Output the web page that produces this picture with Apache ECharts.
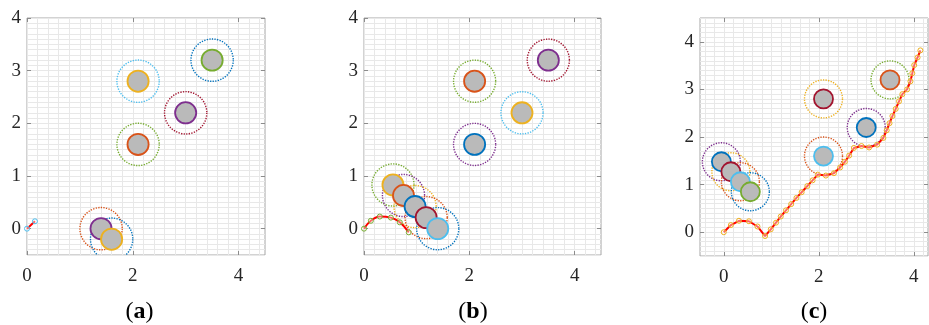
<!DOCTYPE html>
<html>
<head>
<meta charset="utf-8">
<script src="https://cdn.jsdelivr.net/npm/echarts@6/dist/echarts.min.js"></script>
<style>
    html, body { margin: 0; padding: 0; background: #fff; }
    #main { width: 929px; height: 325px; }
</style>
</head>
<body>
<div id="main"></div>
<script>
    // MATLAB 默认配色
    var C = {blue: '#0072BD', red: '#D95319', yellow: '#EDB120', purple: '#7E2F8E',
             green: '#77AC30', cyan: '#4DBEEE', wine: '#A2142F'};

    // (a) 障碍物圆心 / 路径
    var obstA = [[3.5, 3.2], [2.1, 2.8], [3.0, 2.2], [2.1, 1.6], [1.4, 0.0], [1.6, -0.2]];
    var innerA = ['green', 'yellow', 'purple', 'red', 'purple', 'yellow'];
    var outerA = ['blue', 'cyan', 'wine', 'green', 'red', 'blue'];
    var pathA = [[0, 0], [0.15, 0.14]];

    // (b)
    var obstB = [[3.5, 3.2], [2.1, 2.8], [3.0, 2.2], [2.1, 1.6],
                 [0.55, 0.83], [0.75, 0.63], [0.97, 0.42], [1.18, 0.21], [1.4, 0.0]];
    var innerB = ['purple', 'red', 'yellow', 'blue', 'yellow', 'red', 'blue', 'wine', 'cyan'];
    var outerB = ['wine', 'green', 'cyan', 'purple', 'green', 'purple', 'yellow', 'red', 'blue'];
    var pathB = [[0, 0], [0.13, 0.15], [0.3, 0.23], [0.51, 0.21], [0.68, 0.12], [0.85, -0.07]];

    // (c)
    var obstC = [[3.5, 3.2], [2.1, 2.8], [3.0, 2.2], [2.1, 1.6],
                 [-0.05, 1.48], [0.15, 1.27], [0.35, 1.06], [0.56, 0.85]];
    var innerC = ['red', 'wine', 'blue', 'cyan', 'blue', 'wine', 'cyan', 'green'];
    var outerC = ['green', 'yellow', 'purple', 'red', 'purple', 'yellow', 'red', 'blue'];
    var pathC = [[0, 0], [0.15, 0.15], [0.32, 0.24], [0.53, 0.23], [0.71, 0.12], [0.87, -0.08],
                 [0.99, 0.06], [1.1, 0.2], [1.2, 0.33], [1.31, 0.46], [1.42, 0.59], [1.53, 0.72],
                 [1.64, 0.84], [1.76, 0.97], [1.87, 1.09], [1.98, 1.21], [2.15, 1.19], [2.32, 1.24],
                 [2.45, 1.36], [2.55, 1.48], [2.64, 1.61], [2.74, 1.77], [2.9, 1.81], [3.06, 1.78],
                 [3.23, 1.84], [3.36, 1.98], [3.43, 2.14], [3.49, 2.29], [3.55, 2.44], [3.62, 2.59],
                 [3.69, 2.75], [3.76, 2.9], [3.86, 3.0], [3.93, 3.17], [3.97, 3.34], [4.01, 3.51],
                 [4.08, 3.67], [4.14, 3.82]];

    // 刻度
    var xTicks = [0, 2, 4];
    var yTicks = [0, 1, 2, 3, 4];
    var rIn = 0.2, rOut = 0.4;

    var panels = [
        {name: 'a', rect: {left: 27, top: 18, width: 238, height: 237}, x: [0, 4.5], y: [-0.5, 4],
         obst: obstA, inner: innerA, outer: outerA, path: pathA, mark: C.cyan, smooth: false, cap: 139.5},
        {name: 'b', rect: {left: 364, top: 18, width: 237, height: 237}, x: [0, 4.5], y: [-0.5, 4],
         obst: obstB, inner: innerB, outer: outerB, path: pathB, mark: C.green, smooth: 0.4, cap: 473},
        {name: 'c', rect: {left: 700, top: 18, width: 228, height: 238}, x: [-0.5, 4.3], y: [-0.5, 4.5],
         obst: obstC, inner: innerC, outer: outerC, path: pathC, mark: C.yellow, smooth: false, cap: 814}
    ];

    // 细网格位置
    function steps(min, max, step) {
        var arr = [];
        for (var k = Math.ceil(min / step - 1e-9); k * step <= max + 1e-9; k++) {
            arr.push(Math.round(k * step * 1000) / 1000);
        }
        return arr;
    }

    function ring(r, colors, dotted) {
        return function (params, api) {
            var c = api.coord([api.value(0), api.value(1)]);
            var rr = api.size([r, 0])[0];
            return {
                type: 'circle',
                shape: {cx: c[0], cy: c[1], r: rr},
                style: dotted
                    ? {fill: 'none', stroke: C[colors[params.dataIndex]], lineWidth: 1.4, lineDash: [1.3, 1.3]}
                    : {fill: '#bababa', stroke: C[colors[params.dataIndex]], lineWidth: 1.8}
            };
        };
    }

    var serif = '"Liberation Serif", "Times New Roman", serif';
    var labelFont = {fontFamily: serif, fontSize: 19, color: '#262626'};
    var tickStyle = {color: '#8c8c8c', width: 1};
    var gridLine = {color: '#e8e8e8', width: 1};
    var noLine = {show: false, onZero: false};

    var option = {
        animation: false,
        textStyle: {fontFamily: serif, fontSize: 19, color: '#262626'},
        grid: [], xAxis: [], yAxis: [], series: [], graphic: []
    };

    panels.forEach(function (p, i) {
        option.grid.push(Object.assign({show: true, borderColor: '#a6a6a6', borderWidth: 1, backgroundColor: '#fff'}, p.rect));
        var bx = {type: 'value', gridIndex: i, min: p.x[0], max: p.x[1], axisLine: noLine};
        var by = {type: 'value', gridIndex: i, min: p.y[0], max: p.y[1], axisLine: noLine};
        // 主轴
        option.xAxis.push(Object.assign({}, bx, {
            position: 'bottom',
            axisTick: {inside: true, length: 4, customValues: xTicks, lineStyle: tickStyle},
            axisLabel: Object.assign({customValues: xTicks, margin: 12}, labelFont),
            splitLine: {show: false}
        }));
        option.yAxis.push(Object.assign({}, by, {
            position: 'left',
            axisTick: {inside: true, length: 4, customValues: yTicks, lineStyle: tickStyle},
            axisLabel: Object.assign({customValues: yTicks, margin: 6}, labelFont),
            splitLine: {show: false}
        }));
        // 对侧刻度
        option.xAxis.push(Object.assign({}, bx, {
            position: 'top',
            axisTick: {inside: true, length: 4, customValues: xTicks, lineStyle: tickStyle},
            axisLabel: {show: false}, splitLine: {show: false}
        }));
        option.yAxis.push(Object.assign({}, by, {
            position: 'right',
            axisTick: {inside: true, length: 4, customValues: yTicks, lineStyle: tickStyle},
            axisLabel: {show: false}, splitLine: {show: false}
        }));
        // 细网格
        option.xAxis.push(Object.assign({}, bx, {
            axisLabel: {show: false},
            axisTick: {show: false, customValues: steps(p.x[0], p.x[1], 0.2)},
            splitLine: {show: true, lineStyle: gridLine}
        }));
        option.yAxis.push(Object.assign({}, by, {
            axisLabel: {show: false},
            axisTick: {show: false, customValues: steps(p.y[0], p.y[1], 0.1)},
            splitLine: {show: true, lineStyle: gridLine}
        }));

        var ax = {xAxisIndex: 3 * i, yAxisIndex: 3 * i};
        option.series.push(Object.assign({type: 'custom', clip: true, z: 3, data: p.obst,
            renderItem: ring(rOut, p.outer, true)}, ax));
        option.series.push(Object.assign({type: 'custom', clip: true, z: 4, data: p.obst,
            renderItem: ring(rIn, p.inner, false)}, ax));
        option.series.push(Object.assign({type: 'line', z: 5, data: p.path, smooth: p.smooth,
            symbol: 'circle', symbolSize: 5, showSymbol: true,
            lineStyle: {color: '#ff0000', width: 2},
            itemStyle: {color: 'rgba(255,255,255,0.4)', borderColor: p.mark, borderWidth: 1}}, ax));

        // 子图标题
        option.graphic.push({
            type: 'text', x: p.cap, y: 312,
            style: {
                text: '{p|(}{b|' + p.name + '}{p|)}',
                align: 'center', verticalAlign: 'middle',
                rich: {
                    p: {fontFamily: serif, fontSize: 24, fill: '#000'},
                    b: {fontFamily: serif, fontSize: 24, fontWeight: 'bold', fill: '#000'}
                }
            }
        });
    });

    var chart = echarts.init(document.getElementById('main'));
    chart.setOption(option);
</script>
</body>
</html>
